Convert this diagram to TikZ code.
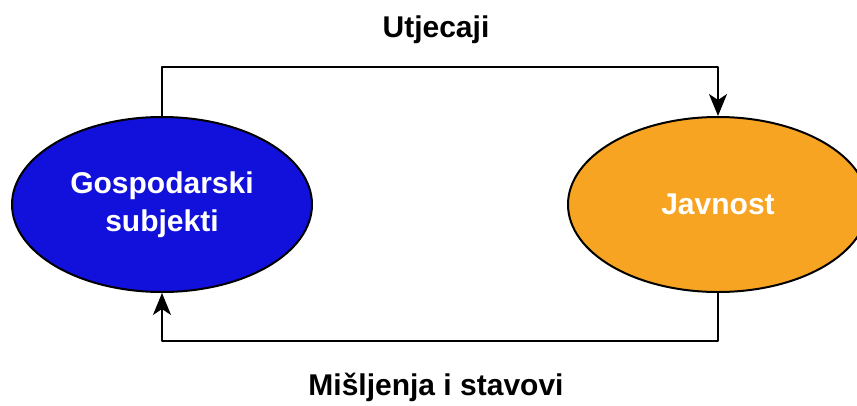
\documentclass[tikz,border=0pt]{standalone}
\usepackage{fontspec}
\setmainfont{Liberation Sans}
\usetikzlibrary{arrows.meta,shapes.geometric}
\definecolor{plava}{HTML}{1111DB}
\definecolor{narancasta}{HTML}{F7A423}
\begin{document}
\begin{tikzpicture}[x=1pt, y=-1pt, >={Stealth[length=22pt,width=18pt,inset=6pt]}, line join=round,
	font=\fontsize{30}{38}\selectfont\bfseries,
	elipsa/.style={ellipse, draw=black, line width=2pt, minimum width=300pt, minimum height=175pt, inner sep=0pt, text=white, align=center},
	veza/.style={->, line width=2pt}]
				\useasboundingbox (0,0) rectangle (857,405);
				\node[elipsa, fill=plava] (G) at (162,204.5) {Gospodarski\\subjekti};
				\node[elipsa, fill=narancasta] (J) at (718,204.5) {Javnost};
				\coordinate (T1) at (162,67);
				\coordinate (T2) at (718,67);
				\coordinate (B1) at (718,341);
				\coordinate (B2) at (162,341);
				\draw[veza] (G.north)--(T1)--(T2)--(J.north);
				\draw[veza] (J.south)--(B1)--(B2)--(G.south);
				\node (utj) at (436,30) {Utjecaji};
				\node (mis) at (436,387) {Mišljenja i stavovi};
			\end{tikzpicture}
\end{document}
